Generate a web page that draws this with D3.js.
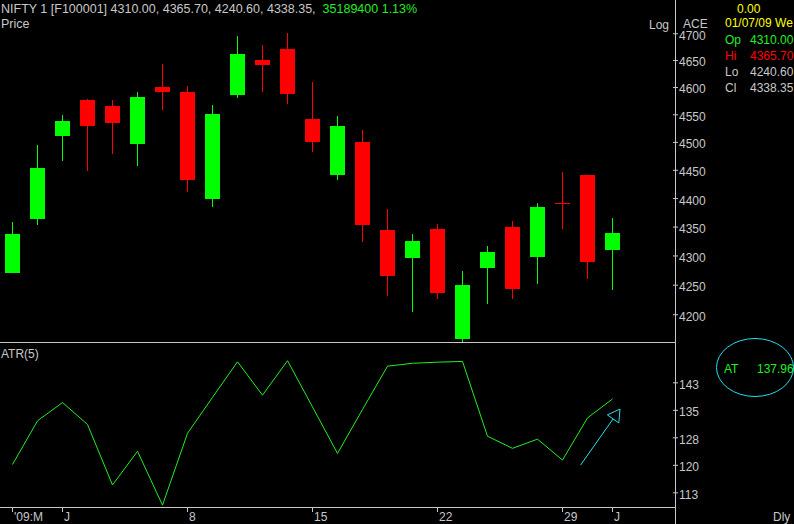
<!DOCTYPE html>
<html>
<head>
<meta charset="utf-8">
<script src="https://cdn.jsdelivr.net/npm/d3@7"></script>
<style>
	body { margin: 0; background: #000; }
	svg { display: block; background: #000; }
	text { font-family: "Liberation Sans", Arial, sans-serif; font-size: 12px; fill: #c8c8c8; }
	.header { font-size: 12.5px; }
</style>
</head>
<body>
<div class="main"></div>
<script>
//chart data (NIFTY 1, daily, 28 May - 1 Jul 2009)
var dates = ["2009-05-28", "2009-05-29", "2009-06-01", "2009-06-02", "2009-06-03", "2009-06-04", "2009-06-05",
	"2009-06-08", "2009-06-09", "2009-06-10", "2009-06-11", "2009-06-12", "2009-06-15", "2009-06-16", "2009-06-17",
	"2009-06-18", "2009-06-19", "2009-06-22", "2009-06-23", "2009-06-24", "2009-06-25", "2009-06-26", "2009-06-29",
	"2009-06-30", "2009-07-01"];
var opens  = [4270, 4364, 4511, 4576, 4565, 4497, 4600, 4591, 4399, 4586, 4650, 4671, 4541, 4440, 4500, 4344, 4296, 4346, 4159, 4279, 4349, 4298, 4391, 4440, 4310];
var highs  = [4358, 4494, 4549, 4578, 4576, 4591, 4643, 4602, 4567, 4695, 4678, 4701, 4609, 4547, 4521, 4381, 4337, 4355, 4273, 4316, 4360, 4391, 4446, 4441, 4365.7];
var lows   = [4270, 4352, 4465, 4447, 4479, 4456, 4558, 4411, 4385, 4579, 4590, 4569, 4481, 4431, 4324, 4231, 4203, 4225, 4150, 4218, 4226, 4252, 4346, 4260, 4240.6];
var closes = [4337, 4453, 4538, 4529, 4535, 4582, 4591, 4432, 4551, 4661, 4641, 4588, 4499, 4529, 4353, 4264, 4325, 4236, 4250, 4306, 4242, 4384, 4391, 4289, 4338.35];
var atr    = [120.1, 132.0, 137.0, 131.0, 114.5, 123.7, 109.0, 128.6, 138.4, 148.1, 139.0, 148.4, 135.8, 123.1, 135.1, 146.9, 147.7, 148.0, 148.2, 127.8, 124.5, 127.0, 121.3, 132.8, 137.96];

//axis ticks
var priceTicks = [4200, 4250, 4300, 4350, 4400, 4450, 4500, 4550, 4600, 4650, 4700];
var atrTicks = [112.5, 120, 127.5, 135, 142.5];
var xTickDates = ["2009-05-28", "2009-06-01", "2009-06-08", "2009-06-15", "2009-06-22", "2009-06-29", "2009-07-01"];
var xTickLabels = ["'09:M", "J", "8", "15", "22", "29", "J"];

//info panel
var infoLabels = ["Op", "Hi", "Lo", "Cl"];
var infoValues = ["4310.00", "4365.70", "4240.60", "4338.35"];
var infoColours = ["#22ee22", "#ff0000", "#c8c8c8", "#c8c8c8"];
var atrLast = "137.96";
//arrow annotation in (candle index, ATR) units
var arrowFrom = [22.72, 119.9];
var arrowTo = [24.3, 135.2];

//canvas config
var width = 794, height = 524;
var plotRight = 675;
var priceTop = 0, priceBottom = 342;
var atrTop = 342, atrBottom = 507;
var grey = "#c8c8c8", green = "#00ff00", red = "#ff0000", cyan = "#22e0ee", yellow = "#ffff00";

var svg = d3.select(".main")
	.append("svg")
	.attr("width", width)
	.attr("height", height);

var xScale = d3.scaleBand()
	.domain(dates)
	.range([0, 625])
	.paddingInner(0.4)
	.paddingOuter(0.2);
var idxScale = d3.scaleLinear()
	.domain([0, dates.length - 1])
	.range([xScale(dates[0]) + xScale.bandwidth() / 2, xScale(dates[dates.length - 1]) + xScale.bandwidth() / 2]);
var yScale = d3.scaleLog()
	.domain([4153.6, 4763])
	.range([priceBottom, priceTop]);
var atrScale = d3.scaleLinear()
	.domain([108.5, 153.5])
	.range([atrBottom, atrTop]);

function cx(d) { return xScale(d) + xScale.bandwidth() / 2; }

svg.append("clipPath").attr("id", "priceClip")
	.append("rect").attr("x", 0).attr("y", priceTop).attr("width", plotRight).attr("height", priceBottom - priceTop);

//candles
var candles = dates.map(function(d, i) {
	return {date: d, o: opens[i], h: highs[i], l: lows[i], c: closes[i]};
});
var candleG = svg.append("g")
	.attr("class", "candles")
	.attr("clip-path", "url(#priceClip)")
	.selectAll("g")
	.data(candles)
	.enter()
	.append("g")
	.style("shape-rendering", "crispEdges");
candleG.append("line")
	.attr("x1", function(d) { return Math.floor(cx(d.date)) + 0.5; })
	.attr("x2", function(d) { return Math.floor(cx(d.date)) + 0.5; })
	.attr("y1", function(d) { return yScale(d.h); })
	.attr("y2", function(d) { return yScale(d.l); })
	.style("stroke", function(d) { return d.c > d.o ? green : red; })
	.style("stroke-width", 1);
candleG.append("rect")
	.attr("x", function(d) { return xScale(d.date); })
	.attr("width", xScale.bandwidth())
	.attr("y", function(d) { return yScale(Math.max(d.o, d.c)); })
	.attr("height", function(d) { return Math.max(1, Math.abs(yScale(d.o) - yScale(d.c))); })
	.style("fill", function(d) { return d.c > d.o ? green : red; });

//ATR line
var atrLine = d3.line()
	.x(function(d, i) { return cx(dates[i]); })
	.y(function(d) { return atrScale(d); });
svg.append("path")
	.datum(atr)
	.attr("d", atrLine)
	.style("fill", "none")
	.style("stroke", "#22ee22")
	.style("stroke-width", 1);

//panel separators
svg.append("line").attr("x1", 0).attr("x2", plotRight).attr("y1", atrTop + 0.5).attr("y2", atrTop + 0.5)
	.style("stroke", grey);
svg.append("line").attr("x1", 0).attr("x2", plotRight).attr("y1", atrBottom + 0.5).attr("y2", atrBottom + 0.5)
	.style("stroke", grey);

//right axes
var priceAxis = d3.axisRight(yScale)
	.tickValues(priceTicks)
	.tickFormat(d3.format("d"))
	.tickSize(0)
	.tickPadding(4);
var atrAxis = d3.axisRight(atrScale)
	.tickValues(atrTicks)
	.tickFormat(d3.format(".0f"))
	.tickSize(0)
	.tickPadding(4);
[[priceAxis, "price-axis"], [atrAxis, "atr-axis"]].forEach(function(a) {
	var g = svg.append("g")
		.attr("class", a[1])
		.attr("transform", "translate(" + plotRight + ",0)")
		.call(a[0]);
	g.select(".domain").remove();
	g.selectAll(".tick text")
		.attr("dy", null)
		.attr("y", 6)
		.attr("x", 4)
		.style("font-family", null)
		.style("font-size", null)
		.attr("fill", grey);
	g.selectAll(".tick")
		.append("line")
		.attr("x1", -2).attr("x2", 3)
		.style("stroke", grey);
});
svg.append("line").attr("x1", plotRight + 0.5).attr("x2", plotRight + 0.5).attr("y1", 0).attr("y2", height)
	.style("stroke", grey);

//bottom date axis
var xTicks = svg.append("g").attr("class", "x-axis")
	.selectAll("g")
	.data(xTickDates)
	.enter()
	.append("g")
	.attr("transform", function(d) { return "translate(" + Math.floor(cx(d)) + "," + atrBottom + ")"; });
xTicks.append("line")
	.attr("x1", 0.5).attr("x2", 0.5)
	.attr("y1", 1).attr("y2", 5)
	.style("stroke", grey);
xTicks.append("text")
	.attr("x", 2)
	.attr("y", 14)
	.text(function(d, i) { return xTickLabels[i]; });

//header
var header = svg.append("text").attr("class", "header").attr("x", 1).attr("y", 13);
header.append("tspan").text("NIFTY 1 [F100001] 4310.00, 4365.70, 4240.60, 4338.35,");
header.append("tspan").attr("dx", 7).style("fill", "#22ee22").text("35189400 1.13%");
svg.append("text").attr("class", "header").attr("x", 1).attr("y", 28).text("Price");
svg.append("text").attr("x", 1).attr("y", 358).text("ATR(5)");
svg.append("text").attr("x", 649).attr("y", 29).text("Log");
svg.append("text").attr("x", 683).attr("y", 28).text("ACE");
svg.append("text").attr("x", 773).attr("y", 521).text("Dly");

//info panel
svg.append("text").attr("x", 737).attr("y", 13).style("fill", yellow).text("0.00");
svg.append("text").attr("x", 725).attr("y", 27).style("fill", yellow).text("01/07/09 We");
infoLabels.forEach(function(l, i) {
	svg.append("text").attr("x", 725).attr("y", 44 + i * 16).style("fill", infoColours[i]).text(l);
	svg.append("text").attr("x", 750).attr("y", 44 + i * 16).style("fill", infoColours[i]).text(infoValues[i]);
});

//ATR value bubble
svg.append("ellipse")
	.attr("cx", 755).attr("cy", 367.5).attr("rx", 38.5).attr("ry", 29)
	.style("fill", "none").style("stroke", cyan);
svg.append("text").attr("x", 724).attr("y", 373).style("fill", "#22ee22").text("AT");
svg.append("text").attr("x", 757).attr("y", 373).style("fill", "#22ee22").text(atrLast);

//arrow annotation
var ax1 = idxScale(arrowFrom[0]), ay1 = atrScale(arrowFrom[1]);
var ax2 = idxScale(arrowTo[0]), ay2 = atrScale(arrowTo[1]);
var len = Math.sqrt((ax2 - ax1) * (ax2 - ax1) + (ay2 - ay1) * (ay2 - ay1));
var ux = (ax2 - ax1) / len, uy = (ay2 - ay1) / len;
var bx = ax2 - 12 * ux, by = ay2 - 12 * uy;
svg.append("line")
	.attr("x1", ax1).attr("y1", ay1).attr("x2", bx).attr("y2", by)
	.style("stroke", cyan);
svg.append("polygon")
	.attr("points", [[ax2, ay2], [bx - 7 * uy, by + 7 * ux], [bx + 7 * uy, by - 7 * ux]].join(" "))
	.style("fill", "none")
	.style("stroke", cyan);
</script>
</body>
</html>
